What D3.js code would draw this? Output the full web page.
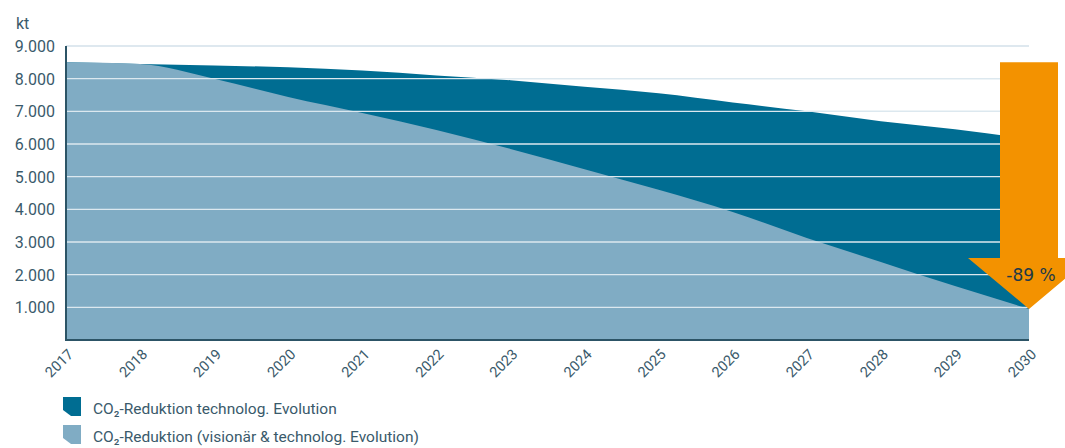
<!DOCTYPE html>
<html><head><meta charset="utf-8">
<script src="https://cdn.jsdelivr.net/npm/d3@7"></script>
<style>
html,body{margin:0;padding:0;background:#fff;}
svg text{font-family:"Roboto","DejaVu Sans",sans-serif;}
</style></head>
<body><svg id="c" width="1065" height="448"></svg>
<script>
const years = [2017,2018,2019,2020,2021,2022,2023,2024,2025,2026,2027,2028,2029,2030];
const technolog = [8500,8450,8400,8350,8250,8100,7950,7750,7550,7270,7000,6700,6450,6150];
const visionaer = [8500,8450,8000,7440,6950,6430,5850,5230,4600,3920,3120,2390,1650,950];
const yTicks = [1000,2000,3000,4000,5000,6000,7000,8000,9000];
const seriesNames = ["CO\u2082-Reduktion technolog. Evolution","CO\u2082-Reduktion (visionär & technolog. Evolution)"];
const arrowLabel = "-89 %";

(function(){
const colDark = "#006d92", colLight = "#80acc4", colAxis = "#2c5466", colText = "#3a5a6b";
const svg = d3.select("#c");
const x = d3.scaleLinear().domain([2017,2030]).range([66,1029]);
const y = d3.scaleLinear().domain([0,9000]).range([340,46]);

const areaGen = vals => d3.area().x((d,i)=>x(years[i])).y0(y(0)).y1(d=>y(d)).curve(d3.curveMonotoneX)(vals);

svg.append("g").selectAll("line").data(yTicks).join("line")
  .attr("x1",66).attr("x2",1029).attr("y1",d=>y(d)).attr("y2",d=>y(d))
  .attr("stroke","#d3e1ea").attr("stroke-width",1.3);

svg.append("path").attr("d",areaGen(technolog)).attr("fill",colDark);
svg.append("path").attr("d",areaGen(visionaer)).attr("fill",colLight);

svg.append("g").selectAll("line").data(yTicks.filter(d=>d<9000)).join("line")
  .attr("x1",67).attr("x2",1029).attr("y1",d=>y(d)).attr("y2",d=>y(d))
  .attr("stroke","#dce8ef").attr("stroke-width",1.3);

svg.append("line").attr("x1",66).attr("x2",66).attr("y1",y(9000)).attr("y2",y(0)+1).attr("stroke",colAxis).attr("stroke-width",2);
svg.append("line").attr("x1",66).attr("x2",1029).attr("y1",y(0)).attr("y2",y(0)).attr("stroke",colAxis).attr("stroke-width",2);

const fmt = d => d3.format(",")(d).replace(/,/g,".");
svg.append("g").selectAll("text").data(yTicks).join("text")
  .attr("x",55).attr("y",d=>y(d)+6).attr("text-anchor","end")
  .attr("fill",colText).attr("font-size",16).text(fmt);
svg.append("text").attr("x",16).attr("y",29).attr("fill",colText).attr("font-size",16).text("kt");

svg.append("g").selectAll("text").data(years).join("text")
  .attr("transform",d=>`translate(${x(d)+1},${y(0)+8}) rotate(-45)`)
  .attr("text-anchor","end").attr("dy","0.7em")
  .attr("fill",colText).attr("font-size",14.5).text(d=>d);

const ax = x(2030), aTop = y(technolog[0]), tip = y(visionaer[visionaer.length-1]);
const headY = tip - 51, shaftHalf = 29, headHalf = 61;
svg.append("path").attr("fill","#f39200")
  .attr("d",`M${ax-shaftHalf},${aTop} L${ax+shaftHalf},${aTop} L${ax+shaftHalf},${headY} L${ax+headHalf},${headY} L${ax},${tip} L${ax-headHalf},${headY} L${ax-shaftHalf},${headY} Z`);
svg.append("text").attr("x",ax+2).attr("y",headY+23).attr("text-anchor","middle")
  .attr("fill","#1e3a48").attr("font-size",17).style("font-family","'DejaVu Sans',sans-serif").text(arrowLabel);

const leg = svg.append("g");
[colDark,colLight].forEach((c,i)=>{
  const y0 = 397 + i*28;
  leg.append("path").attr("fill",c)
    .attr("d",`M63,${y0} L81,${y0} L81,${y0+19} L71,${y0+19} L63,${y0+13} Z`);
  leg.append("text").attr("x",93).attr("y",y0+17).attr("fill",colText).attr("font-size",15.5).text(seriesNames[i]);
});
})();
</script></body></html>
